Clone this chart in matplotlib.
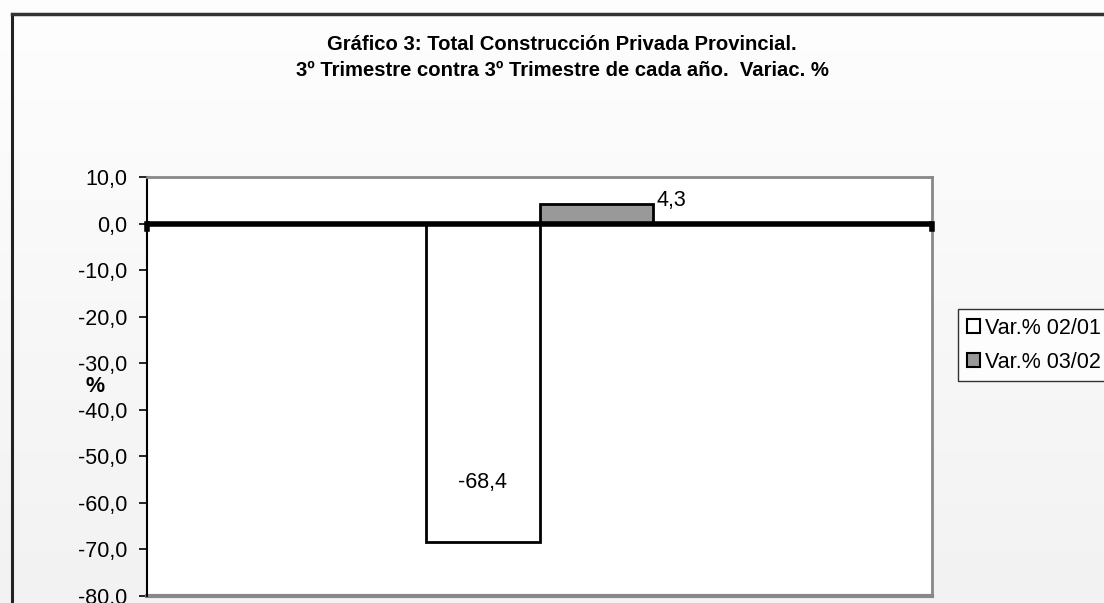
import numpy as np
import matplotlib
matplotlib.use("Agg")
import matplotlib.pyplot as plt
from matplotlib.patches import Patch
from matplotlib.lines import Line2D

# Datos
series = ["Var.% 02/01", "Var.% 03/02"]
valores = [-68.4, 4.3]
etiquetas = ["-68,4", "4,3"]
colores = ["white", "#999999"]
yticks = [10, 0, -10, -20, -30, -40, -50, -60, -70, -80]

plt.rcParams['font.family'] = ['Liberation Sans', 'DejaVu Sans']
fs = 15.5

fig = plt.figure(figsize=(11.04, 6.03), dpi=100)

# fondo con degradado suave
bg = fig.add_axes([0, 0, 1, 1], zorder=-10)
grad = np.linspace(0, 1, 256).reshape(-1, 1)
bg.imshow(grad, aspect='auto', cmap=matplotlib.colors.LinearSegmentedColormap.from_list(
    'g', ['#fefefe', '#f2f2f2']), extent=[0, 1, 0, 1], origin='upper')
bg.set_xlim(0, 1)
bg.set_ylim(0, 1)
bg.axis('off')
# borde exterior del gráfico
bg.add_line(Line2D([11.5 / 1104, 11.5 / 1104], [0, 1 - 14 / 603], color='#222222', lw=2.2))
bg.add_line(Line2D([11.5 / 1104, 1], [1 - 14 / 603, 1 - 14 / 603], color='#333333', lw=2.5))

ax = fig.add_axes([147 / 1104, 1 - 596 / 603, 785 / 1104, 419 / 603])
ax.set_facecolor('white')

ancho = 0.144
x = np.array([-ancho / 2, ancho / 2])
for i in range(len(series)):
    ax.bar(x[i], valores[i], width=ancho, color=colores[i], edgecolor='black',
           linewidth=2, label=series[i], zorder=3)

ax.set_xlim(-0.5, 0.5)
ax.set_ylim(-80, 10)
ax.set_yticks(yticks)
ax.set_yticklabels([f"{v:.1f}".replace('.', ',') for v in yticks], fontsize=fs)
ax.tick_params(axis='y', direction='out', length=6, width=1.2, pad=8)

# borde gris del área de trazado
for s in ['top', 'right']:
    ax.spines[s].set_color('#888888')
    ax.spines[s].set_linewidth(2)
ax.spines['left'].set_color('black')
ax.spines['left'].set_linewidth(1.5)
ax.spines['bottom'].set_visible(False)
ax.add_line(Line2D([0, 1], [0, 0], transform=ax.transAxes, color='#888888', lw=3, clip_on=False))

# eje de categorías en cero
ax.axhline(0, color='black', lw=4, zorder=4, solid_capstyle='butt')
ax.set_xticks([])
for xe in [-0.5, 0.5]:
    ax.plot([xe, xe], [0, -1.2], color='black', lw=4, zorder=4, clip_on=False)

# etiquetas de valores
ax.text(x[0], -55.7, etiquetas[0], ha='center', va='center', fontsize=fs, zorder=5)
ax.text(x[1] + ancho / 2 + 0.005, valores[1] + 0.6, etiquetas[1], ha='left', va='center',
        fontsize=fs, zorder=5)

ax.text(95 / 1104, 1 - 386 / 603, "%", transform=fig.transFigure, fontsize=fs,
        fontweight='bold', ha='center', va='center')

fig.text(562 / 1104, 1 - 45 / 603, "Gráfico 3: Total Construcción Privada Provincial.",
         ha='center', va='center', fontsize=14.6, fontweight='bold')
fig.text(562 / 1104, 1 - 71 / 603, "3º Trimestre contra 3º Trimestre de cada año.  Variac. %",
         ha='center', va='center', fontsize=14.6, fontweight='bold')

handles = [Patch(facecolor=colores[i], edgecolor='black', linewidth=1.5) for i in range(2)]
leg = fig.legend(handles, series, loc='upper left', bbox_to_anchor=(958 / 1104, 1 - 309 / 603),
                 fontsize=fs, frameon=True, fancybox=False, handlelength=0.6, handleheight=0.6,
                 handletextpad=0.25, borderpad=0.4, labelspacing=0.6, borderaxespad=0)
leg.get_frame().set_edgecolor('black')
leg.get_frame().set_linewidth(1)
leg.get_frame().set_facecolor('white')

fig.savefig('out.png', dpi=100)
